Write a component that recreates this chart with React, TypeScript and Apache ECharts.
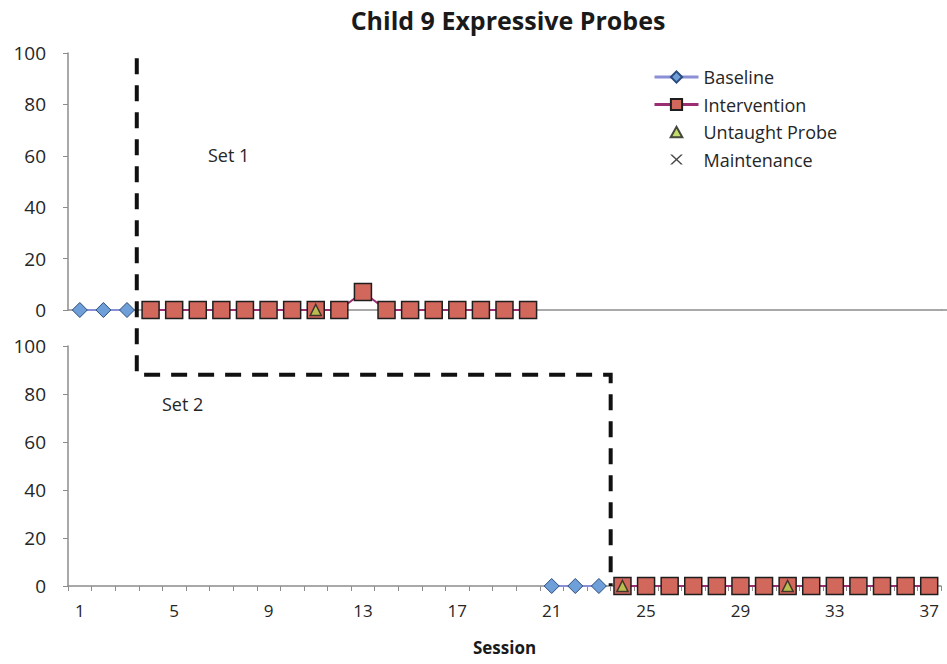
import React, { useEffect, useRef } from "react";
import * as echarts from "echarts";

const sessions = ["1","2","3","4","5","6","7","8","9","10","11","12","13","14","15","16","17","18","19","20","21","22","23","24","25","26","27","28","29","30","31","32","33","34","35","36","37"];

// Set 1 (top panel)
const set1BaselineSessions = [1, 2, 3];
const set1BaselineValues = [0, 0, 0];
const set1InterventionSessions = [4, 5, 6, 7, 8, 9, 10, 11, 12, 13, 14, 15, 16, 17, 18, 19, 20];
const set1InterventionValues = [0, 0, 0, 0, 0, 0, 0, 0, 0, 7, 0, 0, 0, 0, 0, 0, 0];
const set1ProbeSessions = [11];
const set1ProbeValues = [0];

// Set 2 (bottom panel)
const set2BaselineSessions = [21, 22, 23];
const set2BaselineValues = [0, 0, 0];
const set2InterventionSessions = [24, 25, 26, 27, 28, 29, 30, 31, 32, 33, 34, 35, 36, 37];
const set2InterventionValues = [0, 0, 0, 0, 0, 0, 0, 0, 0, 0, 0, 0, 0, 0];
const set2ProbeSessions = [24, 31];
const set2ProbeValues = [0, 0];

// Phase-change line: after session 3 (set 1) and after session 23 (set 2)
const phaseChangeSet1 = [3, 4];
const phaseChangeSet2 = [23, 24];
const phaseLineTopSet1 = 98;
const phaseLineStepSet2 = 88;

const pairs = (xs: number[], ys: number[]) => xs.map((x, i) => [String(x), ys[i]]);

const FONT = "'Open Sans', sans-serif";
const X_PATH = "path://M0,0 L2,0 L5,3.2 L8,0 L10,0 L6,4 L10,8 L8,8 L5,4.8 L2,8 L0,8 L4,4 Z";
// legend icons padded vertically (zero-length segments) so they keep a small size in the legend
const TRI_LEGEND = "path://M5,0 L10,9 L0,9 Z M5,-1.5 L5,-1.5 M5,10.5 L5,10.5";
const X_LEGEND = "path://M0,0 L1.6,0 L5,3.3 L8.4,0 L10,0 L5.8,4 L10,8 L8.4,8 L5,4.7 L1.6,8 L0,8 L4.2,4 Z M5,-1.5 L5,-1.5 M5,9.5 L5,9.5";

export default function App() {
  const ref = useRef<HTMLDivElement>(null);
  useEffect(() => {
    if (!ref.current) return;
    const chart = echarts.init(ref.current, null, { renderer: "svg" });
    const gridLeft = 68;
    const gridWidth = 873;
    const axisLine = { show: true, lineStyle: { color: "#8c8c8c", width: 1.5 } };
    const baseMarker = {
      symbol: "diamond",
      symbolSize: 15,
      showAllSymbol: true,
      itemStyle: { color: "#6f9fd9", borderColor: "#2b4c7e", borderWidth: 1 },
      lineStyle: { color: "#8a8fd6", width: 2 },
    };
    const intMarker = {
      symbol: "rect",
      symbolSize: 17,
      showAllSymbol: true,
      itemStyle: { color: "#d2675c", borderColor: "#1e1e1e", borderWidth: 1.5 },
      lineStyle: { color: "#9b2d72", width: 2 },
    };
    const probeMarker = {
      symbol: "triangle",
      symbolSize: 11,
      itemStyle: { color: "#b4d44e", borderColor: "#1e1e1e", borderWidth: 1.5 },
    };
    const yAxisBase = {
      type: "value",
      min: 0,
      max: 100,
      interval: 20,
      splitLine: { show: false },
      axisLine,
      axisTick: { show: true, length: 5, lineStyle: { color: "#8c8c8c" } },
      axisLabel: { fontSize: 19, color: "#262626", fontFamily: FONT, margin: 22 },
    };
    chart.setOption({
      animation: false,
      backgroundColor: "#ffffff",
      title: {
        text: "Child 9 Expressive Probes",
        left: 503,
        top: 2,
        textAlign: "center",
        textStyle: { fontSize: 25, fontWeight: "bold", color: "#1a1a1a", fontFamily: FONT },
      },
      legend: {
        orient: "vertical",
        left: 653,
        top: 68,
        padding: 0,
        itemWidth: 44,
        itemHeight: 14,
        itemGap: 9.5,
        textStyle: { fontSize: 18, color: "#262626", fontFamily: FONT },
        data: [
          { name: "Baseline", lineStyle: { width: 3 } },
          { name: "Intervention", lineStyle: { width: 3 } },
          { name: "Untaught Probe", icon: TRI_LEGEND },
          { name: "Maintenance", icon: X_LEGEND },
        ],
      },
      grid: [
        { left: gridLeft, width: gridWidth, top: 53, height: 257 },
        { left: gridLeft, width: gridWidth, top: 346, height: 240 },
      ],
      xAxis: [
        {
          type: "category",
          gridIndex: 0,
          data: sessions,
          boundaryGap: true,
          axisLine,
          axisTick: { show: false },
          axisLabel: { show: false },
        },
        {
          type: "category",
          gridIndex: 1,
          data: sessions,
          boundaryGap: true,
          axisLine,
          axisTick: { show: true, interval: 0, length: 5, inside: false, lineStyle: { color: "#8c8c8c" } },
          axisLabel: { interval: 3, fontSize: 17, color: "#262626", fontFamily: FONT, margin: 16 },
          name: "Session",
          nameLocation: "middle",
          nameGap: 53,
          nameTextStyle: { fontSize: 17, fontWeight: "bold", color: "#1a1a1a", fontFamily: FONT },
        },
      ],
      yAxis: [
        { ...yAxisBase, gridIndex: 0 },
        { ...yAxisBase, gridIndex: 1 },
      ],
      series: [
        { name: "Baseline", type: "line", xAxisIndex: 0, yAxisIndex: 0, data: pairs(set1BaselineSessions, set1BaselineValues), ...baseMarker },
        { name: "Intervention", type: "line", xAxisIndex: 0, yAxisIndex: 0, data: pairs(set1InterventionSessions, set1InterventionValues), ...intMarker },
        { name: "Untaught Probe", type: "scatter", xAxisIndex: 0, yAxisIndex: 0, data: pairs(set1ProbeSessions, set1ProbeValues), ...probeMarker, z: 5 },
        { name: "Baseline", type: "line", xAxisIndex: 1, yAxisIndex: 1, data: pairs(set2BaselineSessions, set2BaselineValues), ...baseMarker },
        { name: "Intervention", type: "line", xAxisIndex: 1, yAxisIndex: 1, data: pairs(set2InterventionSessions, set2InterventionValues), ...intMarker },
        { name: "Untaught Probe", type: "scatter", xAxisIndex: 1, yAxisIndex: 1, data: pairs(set2ProbeSessions, set2ProbeValues), ...probeMarker, z: 5 },
        { name: "Maintenance", type: "scatter", xAxisIndex: 1, yAxisIndex: 1, data: [], symbol: X_PATH, symbolSize: 11, itemStyle: { color: "#1a1a1a" } },
      ],
    });

    const midX = (axisIndex: number, pair: number[]) => {
      const a = chart.convertToPixel({ xAxisIndex: axisIndex }, String(pair[0])) as number;
      const b = chart.convertToPixel({ xAxisIndex: axisIndex }, String(pair[1])) as number;
      return (a + b) / 2;
    };
    const x1 = midX(0, phaseChangeSet1) - 2;
    const x2 = midX(1, phaseChangeSet2);
    const yTop = chart.convertToPixel({ yAxisIndex: 0 }, phaseLineTopSet1) as number;
    const yStep = chart.convertToPixel({ yAxisIndex: 1 }, phaseLineStepSet2) as number;
    const yBottom = chart.convertToPixel({ yAxisIndex: 1 }, 0) as number;
    const yTopZero = chart.convertToPixel({ yAxisIndex: 0 }, 0) as number;
    const setLabelStyle = { fontSize: 18, fill: "#262626", fontFamily: FONT };
    chart.setOption({
      graphic: [
        {
          type: "line",
          shape: { x1: gridLeft + gridWidth, y1: yTopZero, x2: 947, y2: yTopZero },
          style: { stroke: "#8c8c8c", lineWidth: 1.5 },
        },
        {
          type: "polyline",
          shape: { points: [[x1, yTop], [x1, yStep], [x2, yStep], [x2, yBottom]] },
          style: { stroke: "#111", lineWidth: 4, lineDash: [16, 11], fill: null },
          z: 10,
        },
        { type: "text", x: 208, y: 146, style: { text: "Set 1", ...setLabelStyle } },
        { type: "text", x: 162, y: 395, style: { text: "Set 2", ...setLabelStyle } },
      ],
    });
    return () => chart.dispose();
  }, []);
  return <div ref={ref} style={{ position: "absolute", left: 0, top: 0, width: 947, height: 664 }} />;
}
